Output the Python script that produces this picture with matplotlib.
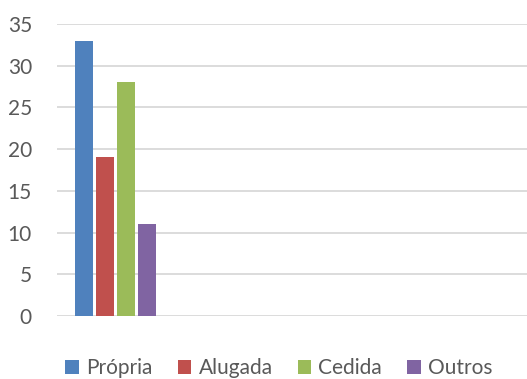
import matplotlib
matplotlib.use("Agg")
import matplotlib.pyplot as plt
from matplotlib.patches import Patch
import numpy as np

plt.rcParams['font.family'] = ['Lato', 'DejaVu Sans']

series = ["Própria", "Alugada", "Cedida", "Outros"]
values = [33, 19, 28, 11]
colors = ["#4F81BD", "#C0504D", "#9BBB59", "#8064A2"]
categories = ["", "", "", ""]  # one populated category, others empty
yticks = [0, 5, 10, 15, 20, 25, 30, 35]

fig = plt.figure(figsize=(5.27, 3.79), dpi=100)
ax = fig.add_axes([57/527, 63/379, 470/527, 292/379])

x = np.arange(len(categories))
step = 0.179
width = 0.153
for i, (name, v, c) in enumerate(zip(series, values, colors)):
    ax.bar(x[0] + (i - 1.5) * step, v, width=width, color=c, label=name, zorder=3)

ax.set_xlim(-0.5, len(categories) - 0.5)
ax.set_ylim(0, 35)
ax.set_yticks(yticks)
ax.set_xticks([])
ax.grid(axis='y', color='#d9d9d9', linewidth=1.3, zorder=0)
ax.tick_params(axis='y', length=0, pad=18, labelsize=15, labelcolor='#595959')
for s in ax.spines.values():
    s.set_visible(False)

handles = [Patch(facecolor=c, edgecolor='none', label=n) for n, c in zip(series, colors)]
fig.legend(handles=handles, loc='center', bbox_to_anchor=(279/527, 1 - 368/379), ncol=4,
           frameon=False, fontsize=15, labelcolor='#595959', handlelength=0.65,
           handleheight=0.65, handletextpad=0.35, columnspacing=1.2, borderaxespad=0)

fig.savefig("out.png", dpi=100)
